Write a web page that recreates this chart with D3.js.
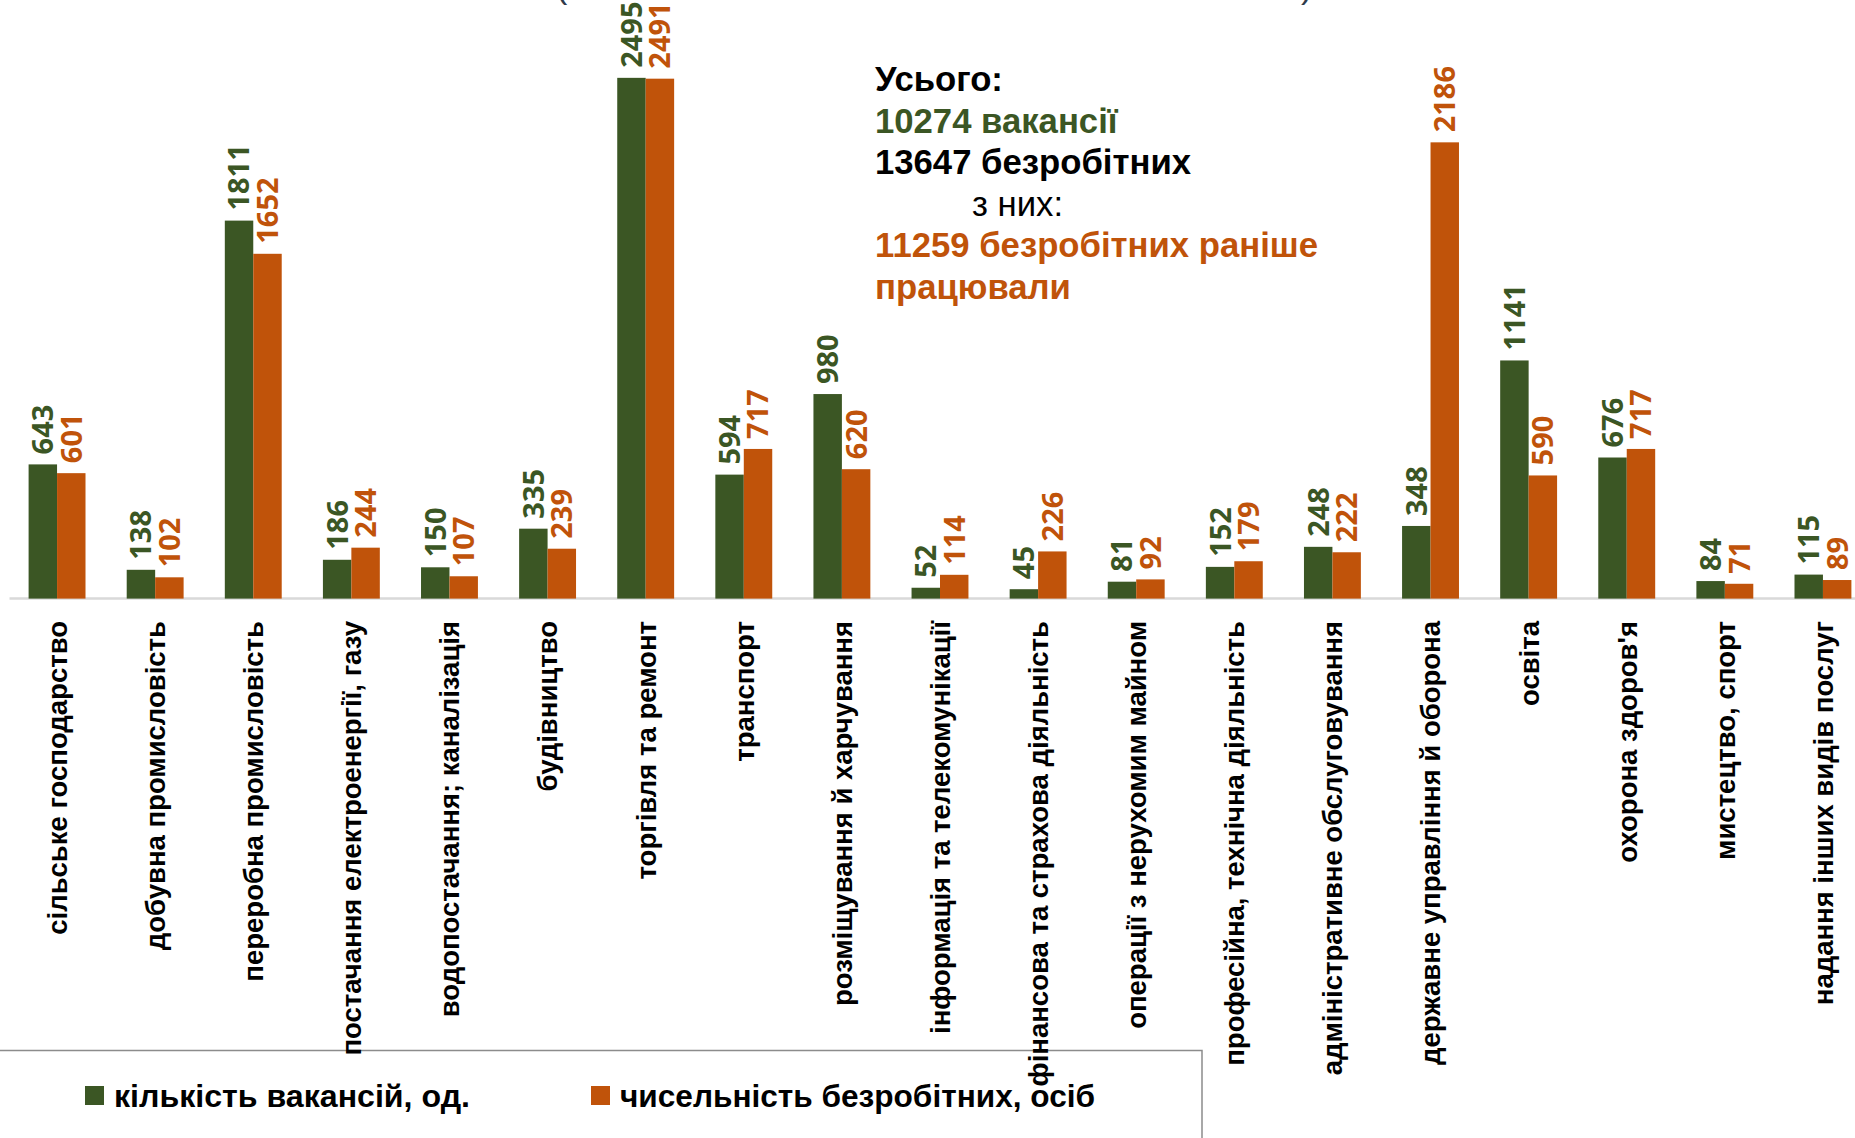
<!DOCTYPE html>
<html><head><meta charset="utf-8">
<script src="https://cdn.jsdelivr.net/npm/d3@7"></script>
<style>html,body{margin:0;padding:0;background:#fff;overflow:hidden}</style>
</head><body>
<script>
const categories = ["сільське господарство","добувна промисловість","переробна промисловість","постачання електроенергії, газу","водопостачання; каналізація","будівництво","торгівля та ремонт","транспорт","розміщування й харчування","інформація та телекомунікації","фінансова та страхова діяльність","операції з нерухомим майном","професійна, технічна діяльність","адміністративне обслуговування","державне управління й оборона","освіта","охорона здоров'я","мистецтво, спорт","надання інших видів послуг"];
const vacancies = [643,138,1811,186,150,335,2495,594,980,52,45,81,152,248,348,1141,676,84,115];
const unemployed = [601,102,1652,244,107,239,2491,717,620,114,226,92,179,222,2186,590,717,71,89];
const seriesNames = ["кількість вакансій, од.","чисельність безробітних, осіб"];
const colors = ["#3B5624","#C0530A"];
const summaryLines = [
  {t:"Усього:", c:"#000", w:"bold"},
  {t:"10274 вакансії", c:"#3B5624", w:"bold"},
  {t:"13647 безробітних", c:"#000", w:"bold"},
  {t:"з них:", c:"#000", w:"normal", indent:97},
  {t:"11259 безробітних раніше", c:"#C0530A", w:"bold"},
  {t:"працювали", c:"#C0530A", w:"bold"}
];

const W = 1855, H = 1138;
const svg = d3.select("body").append("svg").attr("width", W).attr("height", H);

const x0 = d3.scaleBand().domain(categories).range([8, 1872]).paddingInner(0.42).paddingOuter(0.21);
const x1 = d3.scaleBand().domain([0,1]).range([0, x0.bandwidth()]);
const y = d3.scaleLinear().domain([0, 2500]).range([598.6, 76.8]);

// title remnants (cut off at top, as in the reference)
svg.append("text").attr("x", 556).attr("y", -2).attr("font-family","Liberation Sans").attr("font-size",34).attr("fill","#2f3a4a").text("(");
svg.append("text").attr("x", 1301).attr("y", -2).attr("font-family","Liberation Sans").attr("font-size",34).attr("fill","#2f3a4a").text(")");

// legend frame
svg.append("path").attr("d", `M0,1050.5 H1202 V${H}`).attr("fill","none").attr("stroke","#8c8c8c").attr("stroke-width",1.5);

// axis
const xAxis = d3.axisBottom(x0).tickSize(0).tickFormat("");
const ax = svg.append("g").attr("transform", `translate(0,${y(0)})`).call(xAxis);
ax.select(".domain").attr("stroke","#d9d9d9").attr("stroke-width",2.5).attr("d", `M9.5,0H${W}`);

const data = categories.map((c,i)=>({c, v:[vacancies[i], unemployed[i]]}));
const g = svg.append("g").selectAll("g").data(data).join("g").attr("transform", d=>`translate(${x0(d.c)},0)`);
g.selectAll("rect").data(d=>d.v.map((v,k)=>({v,k}))).join("rect")
  .attr("x", d=>x1(d.k)).attr("width", x1.bandwidth())
  .attr("y", d=>y(d.v)).attr("height", d=>y(0)-y(d.v))
  .attr("fill", d=>colors[d.k]);
g.selectAll("text.val").data(d=>d.v.map((v,k)=>({v,k}))).join("text").attr("class","val")
  .attr("transform", d=>`translate(${x1(d.k)+x1.bandwidth()/2},${y(d.v)-10}) rotate(-90)`)
  .attr("dy","0.36em").attr("text-anchor","start")
  .attr("font-family","Noto Sans").attr("font-weight","bold").attr("font-size",29)
  .attr("fill", d=>colors[d.k]).text(d=>d.v);

// category labels
svg.append("g").selectAll("text").data(categories).join("text")
  .attr("transform", d=>`translate(${x0(d)+x0.bandwidth()/2},621) rotate(-90)`)
  .attr("dy","0.36em").attr("text-anchor","end")
  .attr("font-family","Liberation Sans").attr("font-weight","bold").attr("font-size",27.5)
  .attr("fill","#000").text(d=>d);

// summary text
svg.append("g").selectAll("text").data(summaryLines).join("text")
  .attr("x", d=>875 + (d.indent||0)).attr("y", (d,i)=>91 + i*41.6)
  .attr("font-family","Liberation Sans").attr("font-weight", d=>d.w).attr("font-size",34.7)
  .attr("fill", d=>d.c).text(d=>d.t);

// legend
const leg = svg.append("g").selectAll("g").data(seriesNames).join("g")
  .attr("transform", (d,i)=>`translate(${[85,591][i]},0)`);
leg.append("rect").attr("x",0).attr("y",1086).attr("width",19).attr("height",19).attr("fill",(d,i)=>colors[i]);
leg.append("text").attr("x",29).attr("y",1107)
  .attr("font-family","Liberation Sans Narrow, Liberation Sans").attr("font-weight","bold").attr("font-size",31)
  .attr("textLength",(d,i)=>[356,475][i]).attr("lengthAdjust","spacingAndGlyphs")
  .attr("fill","#000").text(d=>d);
</script>
</body></html>
